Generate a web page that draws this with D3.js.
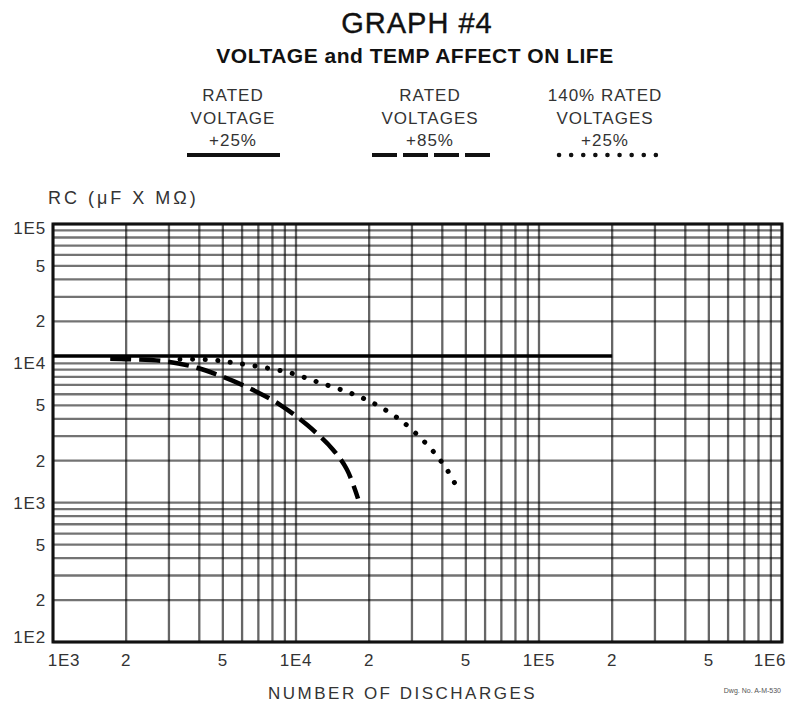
<!DOCTYPE html>
<html lang="en">
<head>
<meta charset="utf-8">
<title>Graph #4</title>
<script src="https://d3js.org/d3.v7.min.js"></script>
<style>
  body { margin: 0; background: #fff; }
  text { font-family: "Liberation Sans", Arial, sans-serif; fill: #1a1a1a; }
</style>
</head>
<body>
<script>
// axis ticks
var xTickValues = [1e3, 2e3, 5e3, 1e4, 2e4, 5e4, 1e5, 2e5, 5e5, 1e6];
var xTickLabels = ["1E3", "2", "5", "1E4", "2", "5", "1E5", "2", "5", "1E6"];
var yTickValues = [1e2, 2e2, 5e2, 1e3, 2e3, 5e3, 1e4, 2e4, 5e4, 1e5];
var yTickLabels = ["1E2", "2", "5", "1E3", "2", "5", "1E4", "2", "5", "1E5"];

// rated voltage +25% (flat)
var ratedDischarges = [1e3, 2e5];
var ratedRC = [1.13e4, 1.13e4];

// rated voltages +85%
var v85Discharges = [1.72e3, 2.07e3, 2.94e3, 3.91e3, 5.0e3, 6.65e3, 8.6e3, 1.11e4, 1.42e4, 1.62e4, 1.80e4];
var v85RC = [1.08e4, 1.07e4, 1.03e4, 9.3e3, 8.0e3, 6.45e3, 5.04e3, 3.62e3, 2.40e3, 1.73e3, 1.07e3];

// 140% rated voltages +25%
var v140Discharges = [3.33e3, 4.43e3, 5.5e3, 7.1e3, 9.45e3, 1.22e4, 1.62e4, 2.07e4, 2.61e4, 2.94e4, 3.56e4, 3.91e4, 4.18e4, 4.5e4];
var v140RC = [1.07e4, 1.06e4, 1.01e4, 9.45e3, 8.55e3, 7.37e3, 6.25e3, 5.21e3, 4.07e3, 3.45e3, 2.48e3, 2.03e3, 1.73e3, 1.38e3];

// legend
var legendLines1 = ["RATED", "VOLTAGE", "+25%"];
var legendLines2 = ["RATED", "VOLTAGES", "+85%"];
var legendLines3 = ["140% RATED", "VOLTAGES", "+25%"];

var w = 803, h = 704;
var plotLeft = 53, plotRight = 782, plotTop = 224, plotBottom = 642;

var svg = d3.select("body").append("svg")
    .attr("width", w)
    .attr("height", h);

var x = d3.scaleLog().domain([1e3, 1e6]).range([plotLeft, plotRight]);
var y = d3.scaleLog().domain([1e2, 1e5]).range([plotBottom, plotTop]);

// titles
svg.append("text")
    .attr("x", 417).attr("y", 33)
    .attr("text-anchor", "middle")
    .style("font-size", "29px")
    .style("letter-spacing", "1px")
    .style("fill", "#111")
    .style("stroke", "#111")
    .style("stroke-width", "0.4px")
    .text("GRAPH #4");

svg.append("text")
    .attr("x", 415).attr("y", 63)
    .attr("text-anchor", "middle")
    .style("font-size", "21px")
    .style("font-weight", "bold")
    .style("letter-spacing", "0.5px")
    .style("fill", "#111")
    .text("VOLTAGE and TEMP AFFECT ON LIFE");

// legend blocks
function legendBlock(lines, cx, x0, x1, style) {
    var g = svg.append("g");
    g.selectAll("text")
        .data(lines)
        .enter()
        .append("text")
        .attr("x", cx)
        .attr("y", function(d, i) { return 101 + i * 22.5; })
        .attr("text-anchor", "middle")
        .style("font-size", "17px")
        .style("letter-spacing", "1px")
        .style("fill", "#333")
        .text(function(d) { return d; });
    var ln = g.append("line")
        .attr("x1", x0).attr("x2", x1)
        .attr("y1", 155).attr("y2", 155)
        .attr("stroke", "#111")
        .attr("stroke-width", 4);
    if (style == "dash") ln.attr("stroke-dasharray", "25 6");
    if (style == "dot") ln.attr("stroke-dasharray", "0.1 12").attr("stroke-linecap", "round").attr("stroke-width", 4.5);
}
legendBlock(legendLines1, 233, 187, 280, "solid");
legendBlock(legendLines2, 430, 372, 493, "dash");
legendBlock(legendLines3, 605, 559, 657, "dot");

// y axis title
svg.append("text")
    .attr("x", 48).attr("y", 204)
    .style("font-size", "18px")
    .style("letter-spacing", "3px")
    .style("fill", "#333")
    .text("RC (\u03bcF X M\u03a9)");

// grid
var grid = svg.append("g");
grid.selectAll(".gx")
    .data(x.ticks())
    .enter()
    .append("line")
    .attr("x1", function(d) { return x(d); })
    .attr("x2", function(d) { return x(d); })
    .attr("y1", plotTop).attr("y2", plotBottom)
    .attr("stroke", "#000")
    .attr("stroke-opacity", 0.6)
    .attr("stroke-width", 2.3);
grid.selectAll(".gy")
    .data(y.ticks())
    .enter()
    .append("line")
    .attr("y1", function(d) { return y(d); })
    .attr("y2", function(d) { return y(d); })
    .attr("x1", plotLeft).attr("x2", plotRight)
    .attr("stroke", "#000")
    .attr("stroke-opacity", 0.55)
    .attr("stroke-width", 2.3);

// frame
svg.append("rect")
    .attr("x", plotLeft).attr("y", plotTop)
    .attr("width", plotRight - plotLeft).attr("height", plotBottom - plotTop)
    .attr("fill", "none")
    .attr("stroke", "#111")
    .attr("stroke-width", 3);

// tick labels
svg.selectAll(".xl")
    .data(xTickValues)
    .enter()
    .append("text")
    .attr("x", function(d, i) {
        var off = 0;
        if (i == 0) off = 11;
        if (i == xTickValues.length - 1) off = -12;
        return x(d) + off;
    })
    .attr("y", 666)
    .attr("text-anchor", "middle")
    .style("font-size", "17px")
    .style("letter-spacing", "0.8px")
    .style("fill", "#333")
    .text(function(d, i) { return xTickLabels[i]; });

svg.selectAll(".yl")
    .data(yTickValues)
    .enter()
    .append("text")
    .attr("x", 46)
    .attr("y", function(d, i) {
        var off = 6;
        if (i == 0) off = 1;
        if (i == yTickValues.length - 1) off = 10;
        return y(d) + off;
    })
    .attr("text-anchor", "end")
    .style("font-size", "17px")
    .style("letter-spacing", "0.8px")
    .style("fill", "#333")
    .text(function(d, i) { return yTickLabels[i]; });

// x axis title
svg.append("text")
    .attr("x", 268).attr("y", 699)
    .style("font-size", "17px")
    .style("letter-spacing", "2.5px")
    .style("fill", "#333")
    .text("NUMBER OF DISCHARGES");

svg.append("text")
    .attr("x", 781).attr("y", 693)
    .attr("text-anchor", "end")
    .style("font-size", "7px")
    .style("fill", "#555")
    .text("Dwg. No. A-M-530");

// curves
var line = d3.line()
    .x(function(d) { return x(d[0]); })
    .y(function(d) { return y(d[1]); })
    .curve(d3.curveCatmullRom.alpha(0.5));

svg.append("path")
    .attr("d", line(d3.zip(ratedDischarges, ratedRC)))
    .attr("fill", "none")
    .attr("stroke", "#000")
    .attr("stroke-width", 3.5);

svg.append("path")
    .attr("d", line(d3.zip(v85Discharges, v85RC)))
    .attr("fill", "none")
    .attr("stroke", "#000")
    .attr("stroke-width", 4.5)
    .attr("stroke-dasharray", "21 8");

svg.append("path")
    .attr("d", line(d3.zip(v140Discharges, v140RC)))
    .attr("fill", "none")
    .attr("stroke", "#000")
    .attr("stroke-width", 5)
    .attr("stroke-linecap", "round")
    .attr("stroke-dasharray", "0.1 12.5");
</script>
</body>
</html>
